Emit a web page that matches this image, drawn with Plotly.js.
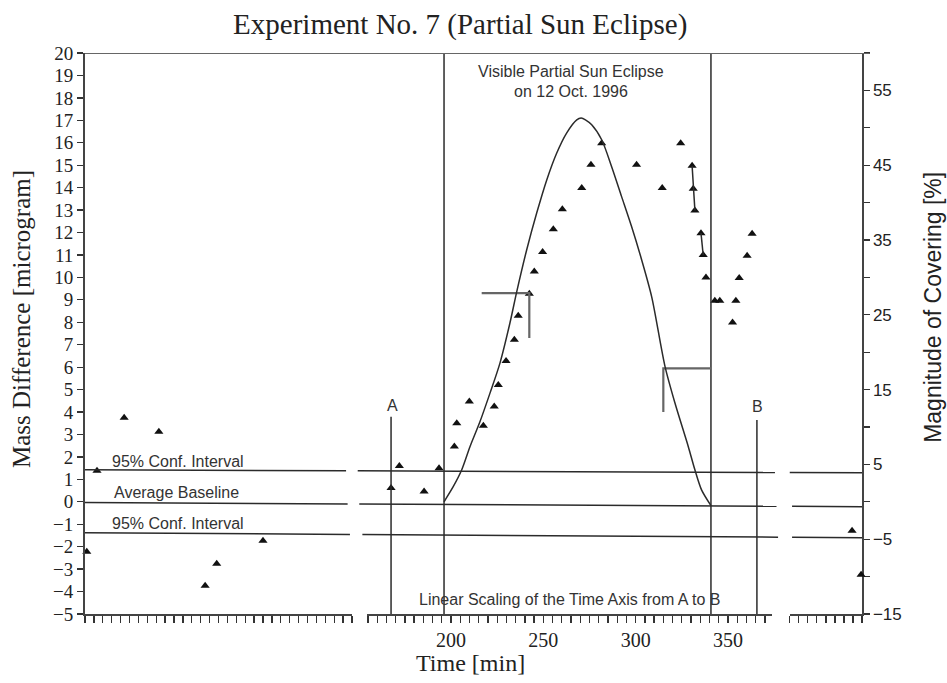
<!DOCTYPE html>
<html>
<head>
<meta charset="utf-8">
<script src="https://cdn.plot.ly/plotly-3.0.1.min.js"></script>
<style>html,body{margin:0;padding:0;background:#fff;}#chart{width:947px;height:683px;}</style>
</head>
<body>
<div id="chart"></div>
<script>
// ---- Data ----
// Left (pre-period) segment, unlabeled time index
const preX = [0.2, 1.35, 4.4, 8.3, 13.5, 14.8, 20.0];
const preMass = [-2.23, 1.38, 3.74, 3.12, -3.74, -2.76, -1.74];

// Middle segment, Time [min] (linear scale from A to B)
const timeMin = [167.5, 172.0, 185.4, 193.5, 201.8, 203.1, 209.9, 217.5, 223.4, 225.6, 229.8, 234.3, 236.4, 242.4, 245.1, 249.6, 255.4, 260.3, 270.8, 275.8, 281.6, 300.5, 314.4, 324.4, 330.6, 331.2, 332.1, 335.4, 336.6, 338.1, 342.9, 345.6, 352.5, 354.3, 356.1, 360.4, 363.1];
const massDiff = [0.61, 1.6, 0.46, 1.5, 2.46, 3.5, 4.47, 3.39, 4.25, 5.21, 6.28, 7.22, 8.29, 9.27, 10.26, 11.13, 12.15, 13.04, 13.98, 15.02, 15.98, 15.02, 13.98, 15.98, 14.97, 13.95, 12.98, 11.97, 11.0, 10.0, 8.96, 8.96, 7.99, 8.96, 9.97, 10.96, 11.94];

// Right (post-period) segment
const postX = [6.9, 7.9];
const postMass = [-1.29, -3.25];

// Eclipse magnitude of covering [%]
const eclTime = [196.2, 201.25, 205.8, 210.3, 215.7, 221.1, 226.5, 231.9, 235.6, 241.0, 246.4, 251.8, 257.2, 262.6, 268.1, 270.5, 272.8, 276.2, 281.6, 287.0, 292.4, 297.8, 303.2, 308.7, 315.9, 321.3, 328.5, 332.1, 335.7, 340.8];
const eclCover = [0, 2.05, 4.28, 7.39, 10.73, 14.53, 18.54, 23.9, 28.1, 33.7, 38.6, 43.0, 46.6, 49.3, 51.07, 51.3, 51.07, 50.4, 48.4, 44.8, 40.8, 36.8, 32.4, 27.4, 18.1, 13.2, 7.4, 4.28, 1.6, -0.5];

// Eclipse start/end, markers A and B
const eclipseStart = 196.2, eclipseEnd = 340.8;
const markA = 167.5, markB = 365.7;
const markTop = [3.79, 3.65];

// Lag brackets
const bracket1T = [216.6, 242.4, 242.4], bracket1M = [9.3, 9.3, 7.3];
const bracket2T = [340.8, 315.0, 315.0], bracket2M = [5.95, 5.95, 4.0];
// Spread bars
const bar1T = [330.6, 331.2, 332.1], bar1M = [14.97, 13.95, 12.98];
const bar2T = [335.4, 336.6], bar2M = [11.97, 11.0];

// Baseline and 95% confidence levels (left end, right end of the scan)
const confUpper = [1.43, 1.29];
const baseline = [-0.03, -0.22];
const confLower = [-1.38, -1.60];

const xTickVals = [200, 250, 300, 350];

// ---- Drawing ----
const ink = '#2b2b2b';
const lineStyle = {color: ink, width: 1.5};
const mk = {symbol: 'triangle-up', size: 8, color: '#111'};

const traces = [
  {x: preX, y: preMass, xaxis: 'x', yaxis: 'y', mode: 'markers', marker: mk, cliponaxis: false},
  {x: timeMin, y: massDiff, xaxis: 'x2', yaxis: 'y', mode: 'markers', marker: mk, cliponaxis: false},
  {x: postX, y: postMass, xaxis: 'x3', yaxis: 'y', mode: 'markers', marker: mk, cliponaxis: false},
  {x: eclTime, y: eclCover, xaxis: 'x2', yaxis: 'y2', mode: 'lines', line: {color: ink, width: 1.5, shape: 'spline', smoothing: 0.8}},
  {x: [eclipseStart, eclipseStart], y: [-5, 20], xaxis: 'x2', yaxis: 'y', mode: 'lines', line: lineStyle},
  {x: [eclipseEnd, eclipseEnd], y: [-5, 20], xaxis: 'x2', yaxis: 'y', mode: 'lines', line: lineStyle},
  {x: [markA, markA], y: [-5, markTop[0]], xaxis: 'x2', yaxis: 'y', mode: 'lines', line: lineStyle},
  {x: [markB, markB], y: [-5, markTop[1]], xaxis: 'x2', yaxis: 'y', mode: 'lines', line: lineStyle},
  {x: bracket1T, y: bracket1M, xaxis: 'x2', yaxis: 'y', mode: 'lines', line: {color: '#666', width: 2.2}},
  {x: bracket2T, y: bracket2M, xaxis: 'x2', yaxis: 'y', mode: 'lines', line: {color: '#666', width: 2.2}},
  {x: bar1T, y: bar1M, xaxis: 'x2', yaxis: 'y', mode: 'lines', line: lineStyle},
  {x: bar2T, y: bar2M, xaxis: 'x2', yaxis: 'y', mode: 'lines', line: lineStyle}
];

// Broken horizontal lines (paper fractions of plot width for the gaps)
const gaps = {
  upper: [[0, 0.336], [0.351, 0.888], [0.907, 1]],
  base:  [[0, 0.338], [0.353, 0.890], [0.910, 1]],
  lower: [[0, 0.341], [0.357, 0.892], [0.910, 1]]
};
function levelAt(lv, p) { return lv[0] + (lv[1] - lv[0]) * p; }
const shapes = [];
[['upper', confUpper], ['base', baseline], ['lower', confLower]].forEach(([k, lv]) => {
  gaps[k].forEach(([a, b]) => {
    shapes.push({type: 'line', xref: 'paper', yref: 'y', x0: a, x1: b,
      y0: levelAt(lv, a), y1: levelAt(lv, b), line: {color: ink, width: 1.5}});
  });
});
// top border
shapes.push({type: 'line', xref: 'paper', yref: 'y', x0: 0, x1: 1.01, y0: 20, y1: 20, line: {color: '#666', width: 2}});

const serif = 'Liberation Serif';
const sans = 'Liberation Sans';
const txt = {family: sans, size: 16, color: '#333'};

const annotations = [
  {text: 'Visible Partial Sun Eclipse', xref: 'x2', yref: 'y', x: 265, y: 19.16, xanchor: 'center', yanchor: 'middle', showarrow: false, font: txt},
  {text: 'on 12 Oct. 1996', xref: 'x2', yref: 'y', x: 265, y: 18.27, xanchor: 'center', yanchor: 'middle', showarrow: false, font: txt},
  {text: '95% Conf. Interval', xref: 'x', yref: 'y', x: 2.8, y: 1.78, xanchor: 'left', yanchor: 'middle', showarrow: false, font: txt},
  {text: 'Average Baseline', xref: 'x', yref: 'y', x: 3.0, y: 0.40, xanchor: 'left', yanchor: 'middle', showarrow: false, font: txt},
  {text: '95% Conf. Interval', xref: 'x', yref: 'y', x: 2.8, y: -0.98, xanchor: 'left', yanchor: 'middle', showarrow: false, font: txt},
  {text: 'Linear Scaling of the Time Axis from A to B', xref: 'x2', yref: 'y', x: 264.4, y: -4.37, xanchor: 'center', yanchor: 'middle', showarrow: false, font: txt},
  {text: 'A', xref: 'x2', yref: 'y', x: 168.1, y: 4.28, xanchor: 'center', yanchor: 'middle', showarrow: false, font: txt},
  {text: 'B', xref: 'x2', yref: 'y', x: 366.2, y: 4.23, xanchor: 'center', yanchor: 'middle', showarrow: false, font: txt},
  {text: 'Mass Difference [microgram]', xref: 'paper', yref: 'paper', x: -0.081, y: 0.526, xanchor: 'center', yanchor: 'middle', textangle: -90, showarrow: false, font: {family: serif, size: 25, color: '#222'}},
  {text: 'Magnitude of Covering [%]', xref: 'paper', yref: 'paper', x: 1.091, y: 0.547, xanchor: 'center', yanchor: 'middle', textangle: -90, showarrow: false, font: {family: sans, size: 23, color: '#222'}},
  {text: 'Time [min]', xref: 'paper', yref: 'paper', x: 0.4955, y: -0.087, xanchor: 'center', yanchor: 'middle', showarrow: false, font: {family: serif, size: 24, color: '#222'}}
];

const axBase = {showgrid: false, zeroline: false, showline: true, linecolor: '#444', linewidth: 1.5,
  ticks: 'outside', ticklen: 7, tickwidth: 1.3, tickcolor: '#333', fixedrange: true};

const layout = {
  width: 947, height: 683,
  margin: {l: 85, r: 85, t: 53, b: 69},
  paper_bgcolor: '#fff', plot_bgcolor: '#fff',
  font: {family: serif, size: 18, color: '#222'},
  showlegend: false,
  title: {text: 'Experiment No. 7 (Partial Sun Eclipse)', x: 0.486, xanchor: 'center', y: 0.965, yanchor: 'middle',
    font: {family: serif, size: 29, color: '#222'}},
  xaxis: Object.assign({}, axBase, {domain: [0, 0.3436], range: [0, 30], dtick: 1, tick0: 0, showticklabels: false, anchor: 'y'}),
  xaxis2: Object.assign({}, axBase, {domain: [0.363, 0.884], range: [154.5, 373.8], tickmode: 'array', tickvals: xTickVals,
    minor: {dtick: 5, tick0: 0, ticks: 'outside', ticklen: 7, tickwidth: 1.3, tickcolor: '#333', showgrid: false},
    tickfont: {family: serif, size: 20, color: '#222'}, anchor: 'y'}),
  xaxis3: Object.assign({}, axBase, {domain: [0.907, 1], range: [0, 8], dtick: 1, tick0: 0, showticklabels: false, anchor: 'y'}),
  yaxis: Object.assign({}, axBase, {range: [-5, 20], dtick: 1, tick0: 0, ticklen: 6, linewidth: 2,
    tickfont: {family: serif, size: 19, color: '#222'}, anchor: 'x'}),
  yaxis2: Object.assign({}, axBase, {range: [-15, 60], overlaying: 'y', side: 'right', anchor: 'x3',
    tickmode: 'linear', tick0: 5, dtick: 10, ticklen: 6,
    minor: {dtick: 5, tick0: 0, ticks: 'outside', ticklen: 6, tickwidth: 1.3, tickcolor: '#333', showgrid: false},
    tickfont: {family: sans, size: 17, color: '#222'}}),
  shapes: shapes,
  annotations: annotations
};

Plotly.newPlot('chart', traces, layout, {displayModeBar: false, staticPlot: true});
</script>
</body>
</html>
